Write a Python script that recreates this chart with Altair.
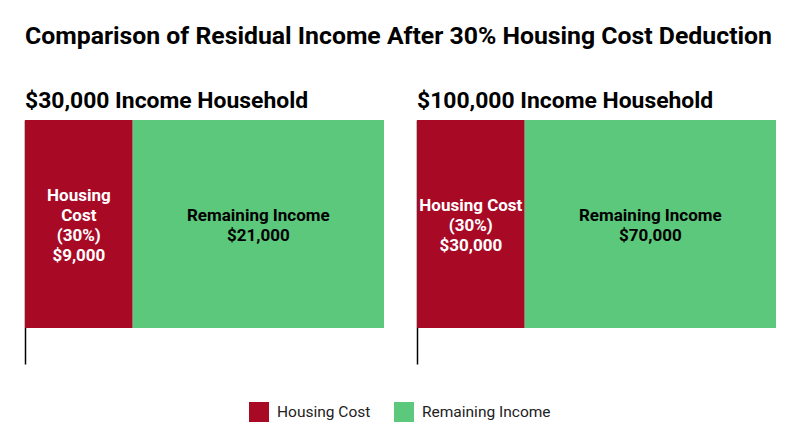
import altair as alt
import pandas as pd

# ---- data ----
panel_titles = ["$30,000 Income Household", "$100,000 Income Household"]
categories = ["Housing Cost", "Remaining Income"]
housing_cost = [9000, 30000]
remaining_income = [21000, 70000]
housing_labels = [["Housing", "Cost", "(30%)", "$9,000"], ["Housing Cost", "(30%)", "$30,000"]]
remaining_labels = [["Remaining Income", "$21,000"], ["Remaining Income", "$70,000"]]

colors = ["#A80A26", "#5BC87C"]
text_colors = ["white", "black"]
FONT = "Roboto"
LINE_H = 20


def panel(i, show_legend):
    vals = [housing_cost[i], remaining_income[i]]
    starts = [0, housing_cost[i]]
    labels = [housing_labels[i], remaining_labels[i]]
    df = pd.DataFrame({
        "row": ["r", "r"],
        "category": categories,
        "value": vals,
        "start": starts,
        "end": [s + v for s, v in zip(starts, vals)],
        "mid": [s + v / 2 for s, v in zip(starts, vals)],
        "label": labels,
    })
    total = housing_cost[i] + remaining_income[i]
    xscale = alt.Scale(domain=[0, total], nice=False, zero=True)
    yenc = alt.Y(
        "row:N",
        axis=alt.Axis(labels=False, ticks=False, title=None, domain=True,
                      domainColor="black", domainWidth=1.5, grid=False),
        scale=alt.Scale(paddingInner=0, paddingOuter=0.0865, align=0),
    )
    legend = alt.Legend(
        title=None, orient="none", direction="horizontal",
        legendX=224, legendY=282, padding=0,
        symbolType="square", symbolSize=400, symbolStrokeWidth=0,
        labelFontSize=15.5, labelFont=FONT, labelColor="#222222",
        labelOffset=8, columnPadding=23,
    ) if show_legend else None
    cenc = alt.Color(
        "category:N",
        scale=alt.Scale(domain=categories, range=colors),
        legend=legend,
    )
    bars = alt.Chart(df).mark_bar(strokeWidth=0).encode(
        x=alt.X("start:Q", scale=xscale, axis=None),
        x2="end:Q",
        y=yenc,
        color=cenc,
    )
    layers = [bars]
    for k, cat in enumerate(categories):
        n_lines = len(labels[k])
        t = alt.Chart(df).transform_filter(
            alt.datum.category == cat
        ).mark_text(
            fontSize=17, fontWeight="bold", font=FONT, lineHeight=LINE_H,
            baseline="middle", align="center", color=text_colors[k],
            dy=-(n_lines - 1) * LINE_H / 2 + 1.5,
        ).encode(
            x=alt.X("mid:Q", scale=xscale, axis=None),
            y=alt.Y("row:N"),
            text="label",
        )
        layers.append(t)
    return alt.layer(*layers).properties(
        width=359, height=244,
        title=alt.TitleParams(panel_titles[i], anchor="start", fontSize=22.9,
                              font=FONT, fontWeight="bold", color="black",
                              offset=7),
    )


chart = alt.hconcat(panel(0, True), panel(1, False), spacing=33).properties(
    title=alt.TitleParams(
        "Comparison of Residual Income After 30% Housing Cost Deduction",
        anchor="start", fontSize=24.8, font=FONT, fontWeight="bold",
        color="black", offset=41,
    ),
    padding={"left": 17, "top": 16, "right": 5, "bottom": 5},
).configure(font=FONT).configure_view(strokeWidth=0, stroke="transparent")

chart.save("out.html", embed_options={"renderer": "svg", "actions": False})
